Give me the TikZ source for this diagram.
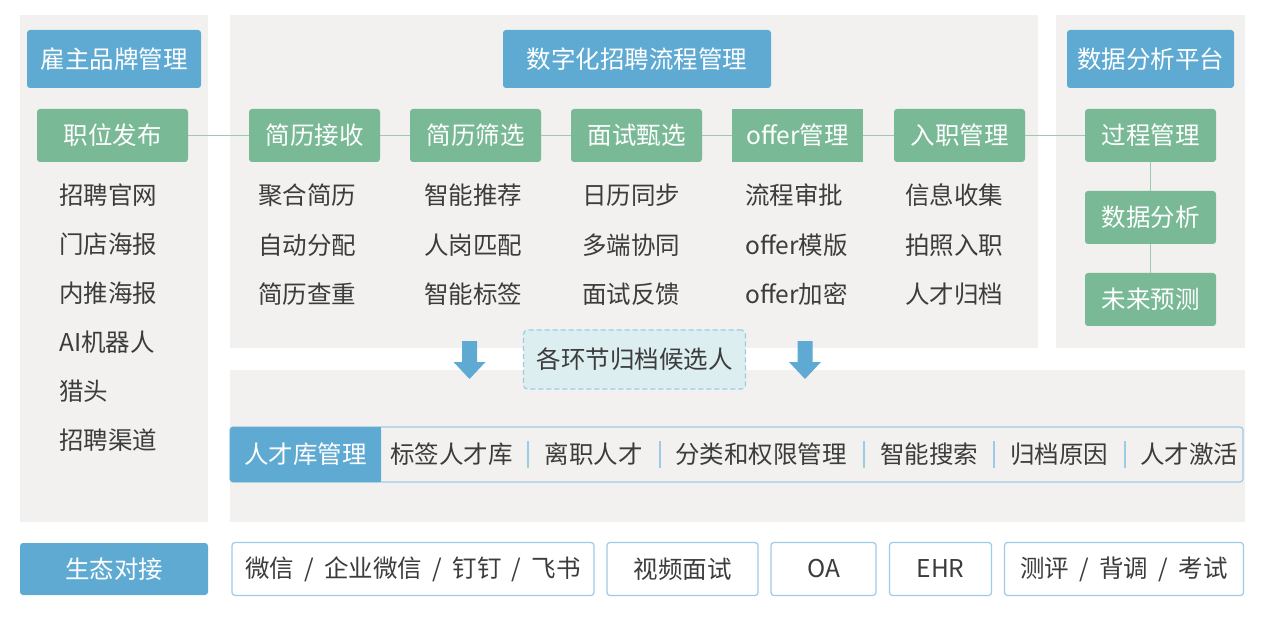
\documentclass[tikz,border=0pt]{standalone}
\usepackage{fontspec}
\setmainfont{Noto Sans CJK SC}
\usetikzlibrary{calc}

\definecolor{hdblue}{HTML}{5FAAD3}
\definecolor{stepgreen}{HTML}{79B996}
\definecolor{linkgreen}{HTML}{9ACBAF}
\definecolor{panelgray}{HTML}{F2F1EF}
\definecolor{txtgray}{HTML}{3C3C3C}
\definecolor{frameblue}{HTML}{9CCBE6}
\definecolor{notefill}{HTML}{DDEEF0}

\newcommand{\slashgap}{\hspace{0.42em}/\hspace{0.42em}}

\begin{document}
\begin{tikzpicture}[x=1pt,y=-1pt,
	header/.style={fill=hdblue, rounded corners=3pt, text=white, inner sep=0pt,
		minimum height=58pt, font=\fontsize{24.5}{27}\selectfont},
	stepbox/.style={fill=stepgreen, rounded corners=3pt, text=white, inner sep=0pt,
		minimum width=131pt, minimum height=53pt, font=\fontsize{24.5}{27}\selectfont},
	item/.style={text=txtgray, anchor=west, inner sep=0pt, font=\fontsize{24.5}{27}\selectfont},
	cell/.style={text=txtgray, inner sep=0pt, font=\fontsize{24.5}{27}\selectfont},
	ecobox/.style={draw=frameblue, line width=1.2pt, fill=white, rounded corners=3pt,
		text=txtgray, inner sep=0pt, minimum height=53pt, font=\fontsize{24.5}{27}\selectfont},
	link/.style={draw=linkgreen, line width=1.2pt}]

	\useasboundingbox (0,0) rectangle (1268,617);

	% panels
	\fill[panelgray] (20,15) rectangle (208,522);
	\fill[panelgray] (230,15) rectangle (1038,348);
	\fill[panelgray] (1056,15) rectangle (1245,348);
	\fill[panelgray] (230,370) rectangle (1245,522);

	% headers
	\node[header, minimum width=174pt] (brand) at (114,59) {雇主品牌管理};
	\node[header, minimum width=268pt] (flow) at (637,59) {数字化招聘流程管理};
	\node[header, minimum width=167pt] (platform) at (1150.5,59) {数据分析平台};

	% process steps
	\node[stepbox, minimum width=151pt] (pub) at (112.5,135.5) {职位发布};
	\node[stepbox] (recv) at (314.5,135.5) {简历接收};
	\node[stepbox] (screen) at (475.5,135.5) {简历筛选};
	\node[stepbox] (interview) at (636.5,135.5) {面试甄选};
	\node[stepbox, rounded corners=0pt] (offer) at (797.5,135.5) {offer管理};
	\node[stepbox] (onboard) at (959.5,135.5) {入职管理};
	\node[stepbox] (proc) at (1150.5,135.5) {过程管理};
	\node[stepbox] (ana) at (1150.5,217.5) {数据分析};
	\node[stepbox] (pred) at (1150.5,299.5) {未来预测};

	% links
	\draw[link] (pub) -- (recv);
	\draw[link] (recv) -- (screen);
	\draw[link] (screen) -- (interview);
	\draw[link] (interview) -- (offer);
	\draw[link] (offer) -- (onboard);
	\draw[link] (onboard) -- (proc);
	\draw[link] (proc) -- (ana);
	\draw[link] (ana) -- (pred);

	% channels
	\foreach \txt [count=\i] in {招聘官网,门店海报,内推海报,AI机器人,猎头,招聘渠道} {
		\node[item] (chan\i) at (59,{146+49*\i}) {\txt};
	}

	% features under each step
	\node[item] (recvA) at (258,195) {聚合简历};
	\node[item] (recvB) at (258,245) {自动分配};
	\node[item] (recvC) at (258,294) {简历查重};
	\node[item] (screenA) at (424,195) {智能推荐};
	\node[item] (screenB) at (424,245) {人岗匹配};
	\node[item] (screenC) at (424,294) {智能标签};
	\node[item] (interviewA) at (582,195) {日历同步};
	\node[item] (interviewB) at (582,245) {多端协同};
	\node[item] (interviewC) at (582,294) {面试反馈};
	\node[item] (offerA) at (745,195) {流程审批};
	\node[item] (offerB) at (745,245) {offer模版};
	\node[item] (offerC) at (745,294) {offer加密};
	\node[item] (onboardA) at (905,195) {信息收集};
	\node[item] (onboardB) at (905,245) {拍照入职};
	\node[item] (onboardC) at (905,294) {人才归档};

	% archive arrows
	\foreach \ax in {469.5,805} {
		\fill[hdblue] (\ax-7.5,341) -- (\ax+7.5,341) -- (\ax+7.5,362) -- (\ax+16,362)
			-- (\ax,379) -- (\ax-16,362) -- (\ax-7.5,362) -- cycle;
	}
	\node[draw=frameblue, dash pattern=on 5pt off 3pt, line width=1.2pt, fill=notefill,
		rounded corners=4pt, text=txtgray, inner sep=0pt, minimum width=222pt,
		minimum height=59pt, font=\fontsize{24.5}{27}\selectfont] (archive) at (634.5,359.5) {各环节归档候选人};

	% talent pool bar
	\node[draw=frameblue, line width=1.2pt, rounded corners=3pt, minimum width=1013pt,
		minimum height=55pt, inner sep=0pt] (bar) at (736.5,454.5) {};
	\fill[hdblue, rounded corners=3pt] (230,427) rectangle (381,482);
	\fill[hdblue] (370,427) rectangle (381,482);
	\node[cell, text=white] (pool) at (305.5,454.5) {人才库管理};
	\foreach \sx in {528,660,864,994,1125} {
		\draw[frameblue, line width=1.2pt] (\sx,441) -- (\sx,468);
	}
	\node[cell] (tagpool) at (451.5,454.5) {标签人才库};
	\node[cell] (leavers) at (593.5,454.5) {离职人才};
	\node[cell] (rights) at (761,454.5) {分类和权限管理};
	\node[cell] (search) at (929,454.5) {智能搜索};
	\node[cell] (reason) at (1059,454.5) {归档原因};
	\node[cell] (revive) at (1189,454.5) {人才激活};

	% ecosystem
	\node[header, minimum width=188pt, minimum height=52pt] (eco) at (114,569) {生态对接};
	\node[ecobox, minimum width=362pt] (im) at (413,569) {微信\slashgap 企业微信\slashgap 钉钉\slashgap 飞书};
	\node[ecobox, minimum width=151pt] (video) at (682.5,569) {视频面试};
	\node[ecobox, minimum width=105pt] (oa) at (823.5,569) {OA};
	\node[ecobox, minimum width=102pt] (ehr) at (940.5,569) {EHR};
	\node[ecobox, minimum width=239pt] (test) at (1124,569) {测评\slashgap 背调\slashgap 考试};

\end{tikzpicture}
\end{document}
